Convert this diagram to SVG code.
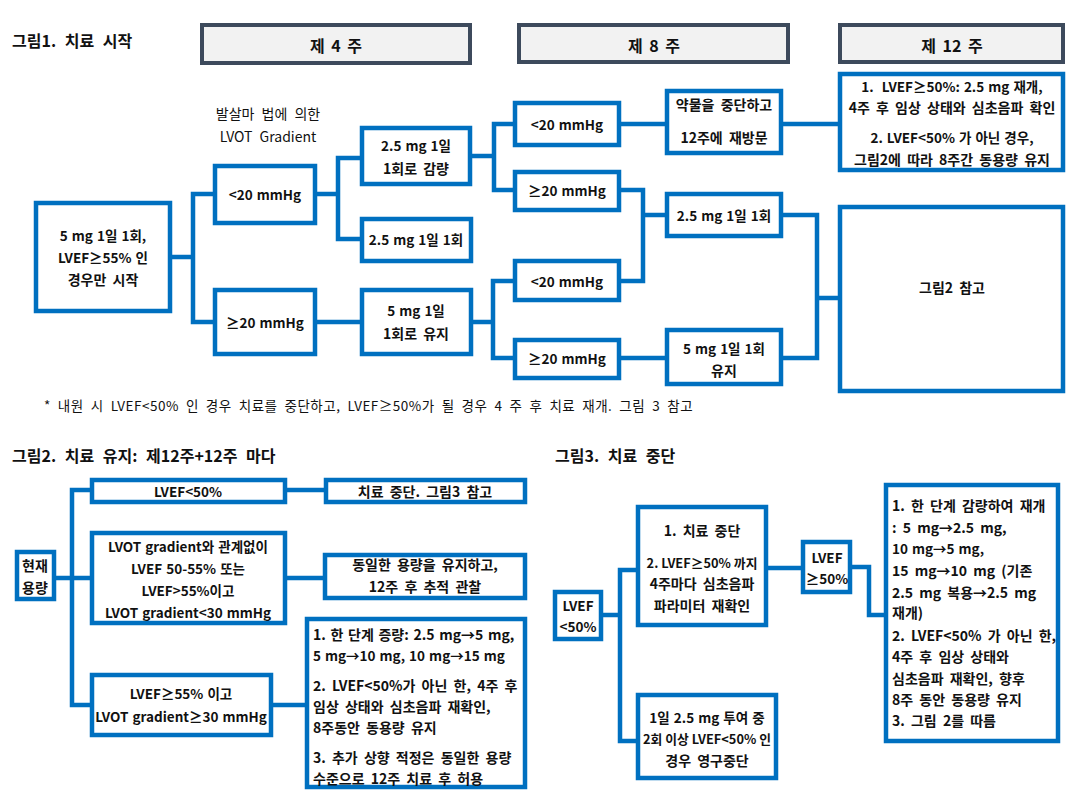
<svg xmlns="http://www.w3.org/2000/svg" width="1070" height="799" viewBox="0 0 1070 799">
<style>
.bg{fill:#fff}
.hdr{fill:#F2F2F2;stroke:#3D4A5C;stroke-width:4}
.box{fill:#fff;stroke:#0070C0;stroke-width:4.5}
.ln{fill:none;stroke:#0070C0;stroke-width:4.5;stroke-linecap:square;stroke-linejoin:miter}
text{font-family:"Noto Sans CJK KR","Noto Sans",sans-serif;font-size:13.5px;font-weight:bold;fill:#111;dominant-baseline:central;word-spacing:1px}
.k{font-size:14px;word-spacing:3px}
.k2{font-size:14px;word-spacing:1.5px}
.s{font-size:12.8px;word-spacing:0}
.c{text-anchor:middle}
.h{font-size:16px;word-spacing:3px}
.t{font-size:16px;word-spacing:5px}
.fn{font-weight:normal;font-size:13.5px;letter-spacing:0.5px;word-spacing:3.5px}
.pl{font-weight:normal;font-size:14px;word-spacing:4px}
</style>
<rect class="bg" x="0" y="0" width="1070" height="799"/>

<!-- Titles -->
<text class="t" x="12" y="40">그림1. 치료 시작</text>
<text class="t" x="12" y="455">그림2. 치료 유지: 제12주+12주 마다</text>
<text class="t" x="555" y="455">그림3. 치료 중단</text>
<text class="pl c" x="268" y="113">발살마 법에 의한</text>
<text class="pl c" x="268" y="136">LVOT Gradient</text>
<text class="fn" x="44" y="405">* 내원 시 LVEF&lt;50% 인 경우 치료를 중단하고, LVEF≥50%가 될 경우 4 주 후 치료 재개. 그림 3 참고</text>

<!-- Headers -->
<g id="hdr-w4"><rect class="hdr" x="202" y="25" width="268" height="38"/><text class="c h" x="336" y="45">제 4 주</text></g>
<g id="hdr-w8"><rect class="hdr" x="519" y="25" width="269" height="37"/><text class="c h" x="654" y="45">제 8 주</text></g>
<g id="hdr-w12"><rect class="hdr" x="840" y="25" width="223" height="37"/><text class="c h" x="952" y="45">제 12 주</text></g>

<!-- Connectors -->
<g id="connectors">
<path class="ln" d="M170 257H193 M193 194V322 M193 194H213 M193 322H213"/>
<path class="ln" d="M317 194H338 M338 158V239 M338 158H360 M338 239H360"/>
<path class="ln" d="M317 322H360"/>
<path class="ln" d="M472 156H494 M494 124V190 M494 124H513 M494 190H513"/>
<path class="ln" d="M473 322H493 M493 281V358 M493 281H513 M493 358H513"/>
<path class="ln" d="M621 124H665"/>
<path class="ln" d="M621 190H643 M643 190V281 M621 281H643 M643 215H665"/>
<path class="ln" d="M621 358H665"/>
<path class="ln" d="M783 215H817 M817 215V358 M783 358H817 M817 298H838"/>
<path class="ln" d="M783 124H838"/>
<path class="ln" d="M55 578H72 M72 490V705 M72 490H90 M72 578H90 M72 705H90"/>
<path class="ln" d="M287 490H324 M287 578H323 M273 705H305"/>
<path class="ln" d="M602 615H620 M620 570V741 M620 570H636 M620 741H636"/>
<path class="ln" d="M768 568H801"/>
<path class="ln" d="M852 567H869V615H884"/>
</g>

<!-- Figure 1 nodes -->
<g id="n-start"><rect class="box" x="36" y="203" width="134" height="108"/>
<text class="c" x="103" y="235">5 mg 1일 1회,</text><text class="c" x="103" y="257">LVEF≥55% 인</text><text class="c k" x="103" y="279">경우만 시작</text></g>
<g id="n-lt20a"><rect class="box" x="215" y="166" width="100" height="57"/><text class="c" x="265" y="194">&lt;20 mmHg</text></g>
<g id="n-ge20a"><rect class="box" x="215" y="290" width="100" height="64"/><text class="c" x="265" y="322">≥20 mmHg</text></g>
<g id="n-25reduce"><rect class="box" x="362" y="128" width="108" height="56"/><text class="c" x="416" y="145">2.5 mg 1일</text><text class="c k" x="416" y="168">1회로 감량</text></g>
<g id="n-25daily"><rect class="box" x="362" y="219" width="109" height="42"/><text class="c" x="416" y="239">2.5 mg 1일 1회</text></g>
<g id="n-5keep"><rect class="box" x="362" y="290" width="109" height="64"/><text class="c" x="416" y="310">5 mg 1일</text><text class="c k" x="416" y="333">1회로 유지</text></g>
<g id="n-w8-1"><rect class="box" x="515" y="103" width="104" height="42"/><text class="c" x="567" y="124">&lt;20 mmHg</text></g>
<g id="n-w8-2"><rect class="box" x="515" y="172" width="104" height="38"/><text class="c" x="567" y="190">≥20 mmHg</text></g>
<g id="n-w8-3"><rect class="box" x="515" y="261" width="104" height="39"/><text class="c" x="567" y="281">&lt;20 mmHg</text></g>
<g id="n-w8-4"><rect class="box" x="515" y="340" width="104" height="38"/><text class="c" x="567" y="358">≥20 mmHg</text></g>
<g id="n-stop"><rect class="box" x="667" y="91" width="114" height="62"/><text class="c k" x="724" y="104">약물을 중단하고</text><text class="c k" x="724" y="137">12주에 재방문</text></g>
<g id="n-w8-25"><rect class="box" x="667" y="194" width="114" height="42"/><text class="c" x="724" y="215">2.5 mg 1일 1회</text></g>
<g id="n-w8-5"><rect class="box" x="667" y="330" width="114" height="54"/><text class="c" x="724" y="348">5 mg 1일 1회</text><text class="c k" x="724" y="370">유지</text></g>
<g id="n-w12"><rect class="box" x="840" y="74" width="223" height="96"/>
<text class="c" x="952" y="86" xml:space="preserve">1.  LVEF≥50%: 2.5 mg 재개,</text><text class="c k" x="952" y="107">4주 후 임상 상태와 심초음파 확인</text><text class="c" x="952" y="137">2. LVEF&lt;50% 가 아닌 경우,</text><text class="c k" x="952" y="159">그림2에 따라 8주간 동용량 유지</text></g>
<g id="n-fig2ref"><rect class="box" x="840" y="207" width="223" height="184"/><text class="c k" x="952" y="287">그림2 참고</text></g>

<!-- Figure 2 nodes -->
<g id="n-cur"><rect class="box" x="17" y="552" width="37" height="47"/><text class="c k" x="35" y="565">현재</text><text class="c k" x="35" y="587">용량</text></g>
<g id="n-f2a"><rect class="box" x="92" y="480" width="193" height="22"/><text class="c" x="188" y="491">LVEF&lt;50%</text></g>
<g id="n-f2a2"><rect class="box" x="326" y="480" width="199" height="22"/><text class="c k" x="425" y="491">치료 중단. 그림3 참고</text></g>
<g id="n-f2b"><rect class="box" x="92" y="533" width="193" height="90"/><text class="c" x="188" y="546">LVOT gradient와 관계없이</text><text class="c" x="188" y="568">LVEF 50-55% 또는</text><text class="c" x="188" y="590">LVEF&gt;55%이고</text><text class="c" x="188" y="612">LVOT gradient&lt;30 mmHg</text></g>
<g id="n-f2b2"><rect class="box" x="325" y="555" width="200" height="43"/><text class="c k" x="425" y="564">동일한 용량을 유지하고,</text><text class="c k" x="425" y="586">12주 후 추적 관찰</text></g>
<g id="n-f2c"><rect class="box" x="92" y="675" width="179" height="60"/><text class="c" x="181" y="693">LVEF≥55% 이고</text><text class="c" x="181" y="716">LVOT gradient≥30 mmHg</text></g>
<g id="n-f2c2"><rect class="box" x="307" y="619" width="218" height="168"/>
<text class="k2" x="313" y="634">1. 한 단계 증량: 2.5 mg→5 mg,</text><text x="313" y="655">5 mg→10 mg, 10 mg→15 mg</text><text class="k" x="313" y="685">2. LVEF&lt;50%가 아닌 한, 4주 후</text><text class="k" x="313" y="706">임상 상태와 심초음파 재확인,</text><text class="k" x="313" y="727">8주동안 동용량 유지</text><text class="k" x="313" y="757">3. 추가 상향 적정은 동일한 용량</text><text class="k" x="313" y="778">수준으로 12주 치료 후 허용</text></g>

<!-- Figure 3 nodes -->
<g id="n-f3a"><rect class="box" x="555" y="592" width="46" height="47"/><text class="c" x="578" y="605">LVEF</text><text class="c" x="578" y="626">&lt;50%</text></g>
<g id="n-f3b"><rect class="box" x="638" y="507" width="128" height="118"/><text class="c k" x="702" y="530">1. 치료 중단</text><text class="c s" x="702" y="562">2. LVEF≥50% 까지</text><text class="c k" x="702" y="583">4주마다 심초음파</text><text class="c k" x="702" y="605">파라미터 재확인</text></g>
<g id="n-f3c"><rect class="box" x="638" y="695" width="138" height="83"/><text class="c" x="707" y="717">1일 2.5 mg 투여 중</text><text class="c s" x="707" y="738">2회 이상 LVEF&lt;50% 인</text><text class="c k" x="707" y="760">경우 영구중단</text></g>
<g id="n-f3d"><rect class="box" x="803" y="542" width="47" height="50"/><text class="c" x="827" y="557">LVEF</text><text class="c" x="827" y="578">≥50%</text></g>
<g id="n-f3e"><rect class="box" x="886" y="485" width="172" height="256"/>
<text class="k" x="892" y="505">1. 한 단계 감량하여 재개</text><text class="k" x="892" y="527">: 5 mg→2.5 mg,</text><text x="892" y="548">10 mg→5 mg,</text><text class="k" x="892" y="570">15 mg→10 mg (기존</text><text class="k" x="892" y="592">2.5 mg 복용→2.5 mg</text><text class="k" x="892" y="612">재개)</text><text class="k" x="892" y="635">2. LVEF&lt;50% 가 아닌 한,</text><text class="k" x="892" y="656">4주 후 임상 상태와</text><text class="k" x="892" y="678">심초음파 재확인, 향후</text><text class="k" x="892" y="699">8주 동안 동용량 유지</text><text class="k" x="892" y="720">3. 그림 2를 따름</text></g>
</svg>
